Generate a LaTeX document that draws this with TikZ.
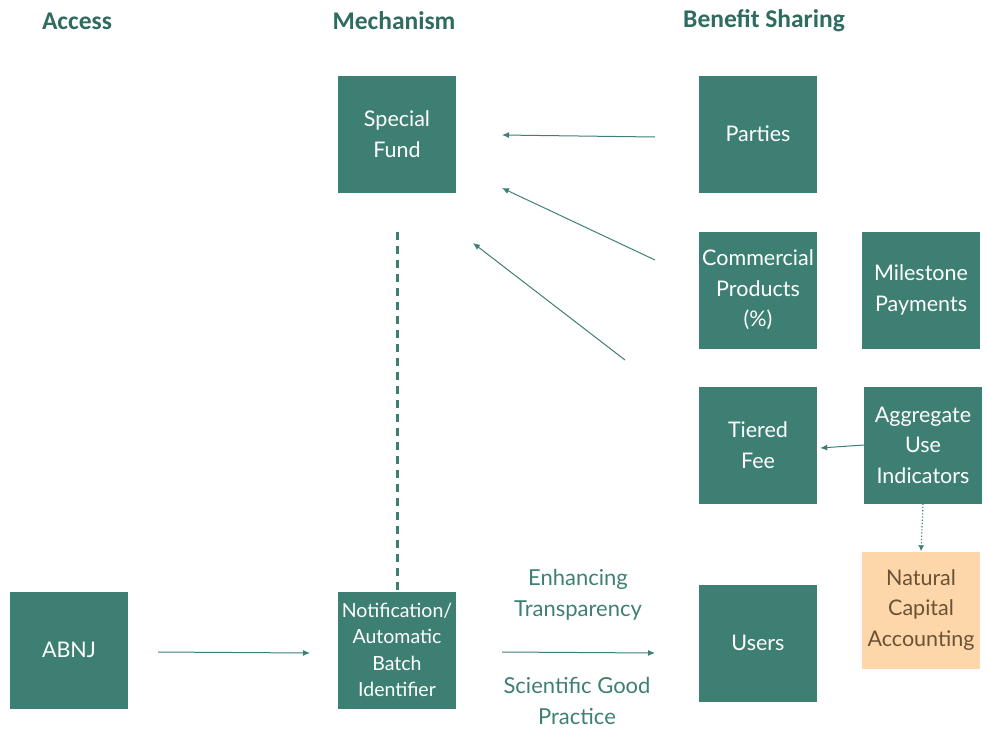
\documentclass[tikz,border=0pt]{standalone}
\usepackage{fontspec}
\setmainfont{Lato}
\newfontfamily\headfont{Carlito}
\usepackage{tikz}
\usetikzlibrary{arrows.meta}
\usetikzlibrary{calc}

\definecolor{teal1}{HTML}{3E7F74}
\definecolor{tealtxt}{HTML}{2F6B5F}
\definecolor{peach}{HTML}{FDD6A9}
\definecolor{browntxt}{HTML}{6A5235}

\tikzset{
	box/.style={fill=teal1,text=white,minimum width=118pt,minimum height=117pt,
		inner sep=1pt,align=center,font=\fontsize{21.5}{30.5}\selectfont},
	head/.style={text=tealtxt,font=\headfont\bfseries\fontsize{25.5}{30}\selectfont},
	link/.style={draw=teal1,line width=1pt,-{Latex[length=7pt,width=6pt]}},
	lbl/.style={text=teal1,align=center,font=\fontsize{22}{30.5}\selectfont}
}

\begin{document}
\begin{tikzpicture}[x=1pt,y=-1pt]
	\useasboundingbox (0,0) rectangle (987,728);
	
	% column titles
	\node[head] (hacc) at (77,21) {Access};
	\node[head] (hmech) at (394,21) {Mechanism};
	\node[head] (hben) at (764,21) {Benefit Sharing};
	
	% boxes
	\node[box] (abnj) at (69,650) {ABNJ};
	\node[box] (fund) at (397,134) {Special\\Fund};
	\node[box,font=\fontsize{19.5}{26.5}\selectfont] (notif) at (397,650) {Notification/\\Automatic\\Batch\\Identifier};
	\node[box] (parties) at (758,134) {Parties};
	\node[box] (comm) at (758,290) {Commercial\\Products\\(\%)};
	\node[box] (mile) at (921,290) {Milestone\\Payments};
	\node[box] (tier) at (758,445) {Tiered\\Fee};
	\node[box] (aggr) at (923,445) {Aggregate\\Use\\Indicators};
	\node[box] (users) at (758,643) {Users};
	\node[box,fill=peach,text=browntxt] (nca) at (921,610) {Natural\\Capital\\Accounting};
	
	% free ends of the arrows
	\coordinate (p1) at (655,137);
	\coordinate (f1) at (502,135);
	\coordinate (p2) at (655,260);
	\coordinate (f2) at (502,188);
	\coordinate (p3) at (625,360);
	\coordinate (f3) at (473,243);
	\coordinate (a1) at (158,652);
	\coordinate (n1) at (310,653);
	\coordinate (n2) at (502,652);
	\coordinate (u1) at (655,653);
	\coordinate (d1) at (397,232);
	
	\draw[link] (p1) -- (f1);
	\draw[link] (p2) -- (f2);
	\draw[link] (p3) -- (f3);
	\draw[link] (aggr.west) -- ($(tier.east)+(3,3)$);
	\draw[link] (a1) -- (n1);
	\draw[link] (n2) -- (u1);
	\draw[draw=teal1,line width=1.2pt,dotted,-{Latex[length=6pt,width=6pt]}] (aggr.south) -- (nca.north);
	\draw[draw=teal1,line width=3pt,dash pattern=on 8pt off 6pt] (d1) -- (notif.north);
	
	\node[lbl] (enh) at (578,595) {Enhancing\\Transparency};
	\node[lbl] (sci) at (577,701) {Scientific Good\\Practice};
\end{tikzpicture}
\end{document}
